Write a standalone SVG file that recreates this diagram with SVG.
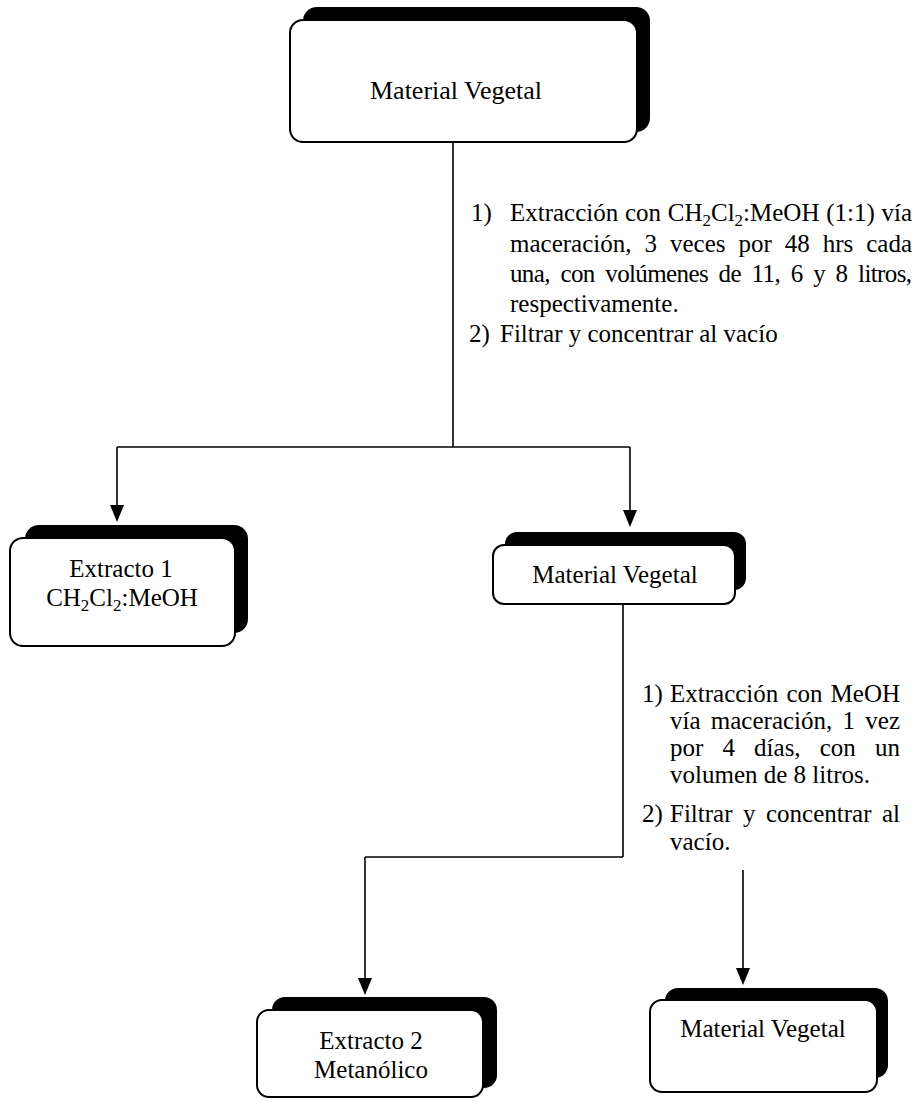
<svg xmlns="http://www.w3.org/2000/svg" width="921" height="1102" viewBox="0 0 921 1102">
<defs>
<style>
.sh{fill:#000;}
.fr{fill:#fff;stroke:#000;stroke-width:2;}
.t{font-family:"Liberation Serif","Times New Roman",serif;fill:#000;font-size:25px;}
.b{text-anchor:middle;}
.big{font-size:26px;}
.ln{stroke:#000;stroke-width:1.6;fill:none;}
.ah{fill:#000;}
</style>
</defs>
<rect width="921" height="1102" fill="#fff"/>

<g id="connectors">
<path class="ln" d="M453,142 V447"/>
<path class="ln" d="M117,447 H630"/>
<path class="ln" d="M117,447 V505"/>
<path class="ah" d="M110,505 L124,505 L117,522 Z"/>
<path class="ln" d="M630,447 V510"/>
<path class="ah" d="M623,510 L637,510 L630,527 Z"/>
<path class="ln" d="M623,604 V857"/>
<path class="ln" d="M365,857 H623"/>
<path class="ln" d="M365,857 V978"/>
<path class="ah" d="M358,978 L372,978 L365,995 Z"/>
<path class="ln" d="M743,870 V968"/>
<path class="ah" d="M736,968 L750,968 L743,985 Z"/>
</g>

<g id="n1">
<rect class="sh" x="303" y="7" width="347" height="125" rx="14"/>
<rect class="fr" x="290" y="20" width="347" height="122" rx="13"/>
<text class="t b big" x="456" y="99">Material Vegetal</text>
</g>

<g id="label1" class="t">
<text x="471" y="221">1)</text>
<text x="510" y="221" word-spacing="0.5" textLength="402" lengthAdjust="spacing">Extracción con CH<tspan font-size="17" dy="5">2</tspan><tspan dy="-5">Cl</tspan><tspan font-size="17" dy="5">2</tspan><tspan dy="-5">:MeOH (1:1) vía</tspan></text>
<text x="510" y="252" word-spacing="6.7" textLength="402" lengthAdjust="spacing">maceración, 3 veces por 48 hrs cada</text>
<text x="510" y="282" word-spacing="5" textLength="402" lengthAdjust="spacing">una, con volúmenes de 11, 6 y 8 litros,</text>
<text x="510" y="312">respectivamente.</text>
<text x="469" y="342">2)</text>
<text x="500" y="342">Filtrar y concentrar al vacío</text>
</g>

<g id="n2">
<rect class="sh" x="25" y="525" width="223" height="108" rx="14"/>
<rect class="fr" x="10" y="538" width="225" height="108" rx="13"/>
<text class="t b" x="121" y="577">Extracto 1</text>
<text class="t b" x="122" y="606">CH<tspan font-size="17" dy="5">2</tspan><tspan dy="-5">Cl</tspan><tspan font-size="17" dy="5">2</tspan><tspan dy="-5">:MeOH</tspan></text>
</g>

<g id="n3">
<rect class="sh" x="505" y="532" width="241" height="58" rx="12"/>
<rect class="fr" x="493" y="545" width="242" height="59" rx="11"/>
<text class="t b" x="615" y="583">Material Vegetal</text>
</g>

<g id="label2" class="t">
<text x="642" y="702">1)</text>
<text x="670" y="702" word-spacing="1.8" textLength="230" lengthAdjust="spacing">Extracción con MeOH</text>
<text x="670" y="729" word-spacing="4" textLength="230" lengthAdjust="spacing">vía maceración, 1 vez</text>
<text x="670" y="756" word-spacing="12.9" textLength="230" lengthAdjust="spacing">por 4 días, con un</text>
<text x="670" y="783">volumen de 8 litros.</text>
<text x="642" y="822">2)</text>
<text x="670" y="822" word-spacing="4.2" textLength="230" lengthAdjust="spacing">Filtrar y concentrar al</text>
<text x="670" y="850">vacío.</text>
</g>

<g id="n4">
<rect class="sh" x="272" y="997" width="225" height="91" rx="13"/>
<rect class="fr" x="257" y="1010" width="226" height="87" rx="12"/>
<text class="t b" x="371" y="1049">Extracto 2</text>
<text class="t b" x="371" y="1078">Metanólico</text>
</g>

<g id="n5">
<rect class="sh" x="665" y="988" width="223" height="90" rx="13"/>
<rect class="fr" x="650" y="1000" width="227" height="92" rx="12"/>
<text class="t b" x="763" y="1037">Material Vegetal</text>
</g>
</svg>
